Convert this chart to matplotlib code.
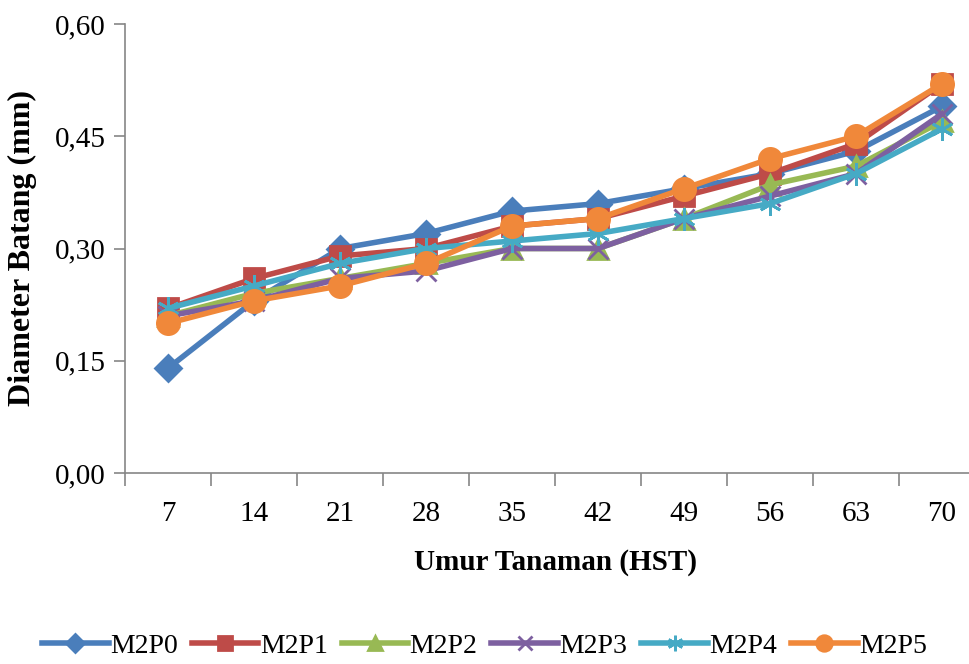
import matplotlib
matplotlib.use("Agg")
import matplotlib.pyplot as plt
import numpy as np

plt.rcParams['font.family'] = ['Liberation Serif', 'DejaVu Serif']

umur = ['7', '14', '21', '28', '35', '42', '49', '56', '63', '70']
m2p0 = [0.14, 0.23, 0.30, 0.32, 0.35, 0.36, 0.38, 0.40, 0.43, 0.49]
m2p1 = [0.22, 0.26, 0.29, 0.30, 0.33, 0.34, 0.37, 0.40, 0.44, 0.52]
m2p2 = [0.21, 0.24, 0.26, 0.28, 0.30, 0.30, 0.34, 0.385, 0.41, 0.47]
m2p3 = [0.21, 0.23, 0.26, 0.27, 0.30, 0.30, 0.34, 0.37, 0.40, 0.48]
m2p4 = [0.22, 0.25, 0.28, 0.30, 0.31, 0.32, 0.34, 0.36, 0.40, 0.46]
m2p5 = [0.20, 0.23, 0.25, 0.28, 0.33, 0.34, 0.38, 0.42, 0.45, 0.52]

series = [
    ('M2P0', m2p0, '#4A7EBB', 'D', 13),
    ('M2P1', m2p1, '#BE4B48', 's', 14),
    ('M2P2', m2p2, '#98B954', '^', 15),
    ('M2P3', m2p3, '#7D60A0', 'x', 14),
    ('M2P4', m2p4, '#46AAC5', (6, 2, 0), 16),
    ('M2P5', m2p5, '#F0883A', 'o', 16),
]

fig = plt.figure(figsize=(9.69, 6.64), dpi=100)
ax = fig.add_axes([125/969, 1 - 473/664, 860/969, (473 - 24)/664])

x = np.arange(len(umur))
for name, vals, col, mk, ms in series:
    ax.plot(x, vals, color=col, lw=4, marker=mk, markersize=ms,
            markeredgecolor=col, markeredgewidth=2.0, label=name)

ax.set_xlim(-0.5, len(umur) - 0.5)
ax.set_ylim(0, 0.6)
ax.set_yticks([0, 0.15, 0.30, 0.45, 0.60])
ax.set_yticklabels(['0,00', '0,15', '0,30', '0,45', '0,60'])
ax.set_xticks(x)
ax.set_xticklabels(umur)
ax.set_xticks(np.arange(-0.5, len(umur)), minor=True)
ax.tick_params(axis='x', which='major', length=0, pad=20, labelsize=21)
ax.tick_params(axis='x', which='minor', length=9, color='#868686', width=1.2)
ax.tick_params(axis='y', length=8, color='#868686', width=1.2, labelsize=21, pad=6)

for s in ['top', 'right']:
    ax.spines[s].set_visible(False)
for s in ['left', 'bottom']:
    ax.spines[s].set_color('#868686')
    ax.spines[s].set_linewidth(1.2)

ax.set_ylabel('Diameter Batang (mm)', fontsize=23, fontweight='bold')
ax.yaxis.set_label_coords(-0.102, 0.5)
ax.set_xlabel('Umur Tanaman (HST)', fontsize=21, fontweight='bold', labelpad=16)

fig.legend(loc='lower center', bbox_to_anchor=(0.5, -0.03), ncol=6, frameon=False,
           fontsize=20, handlelength=2.4, columnspacing=0.5, handletextpad=0.05,
           markerscale=0.7)

fig.savefig('out.png', dpi=100)
